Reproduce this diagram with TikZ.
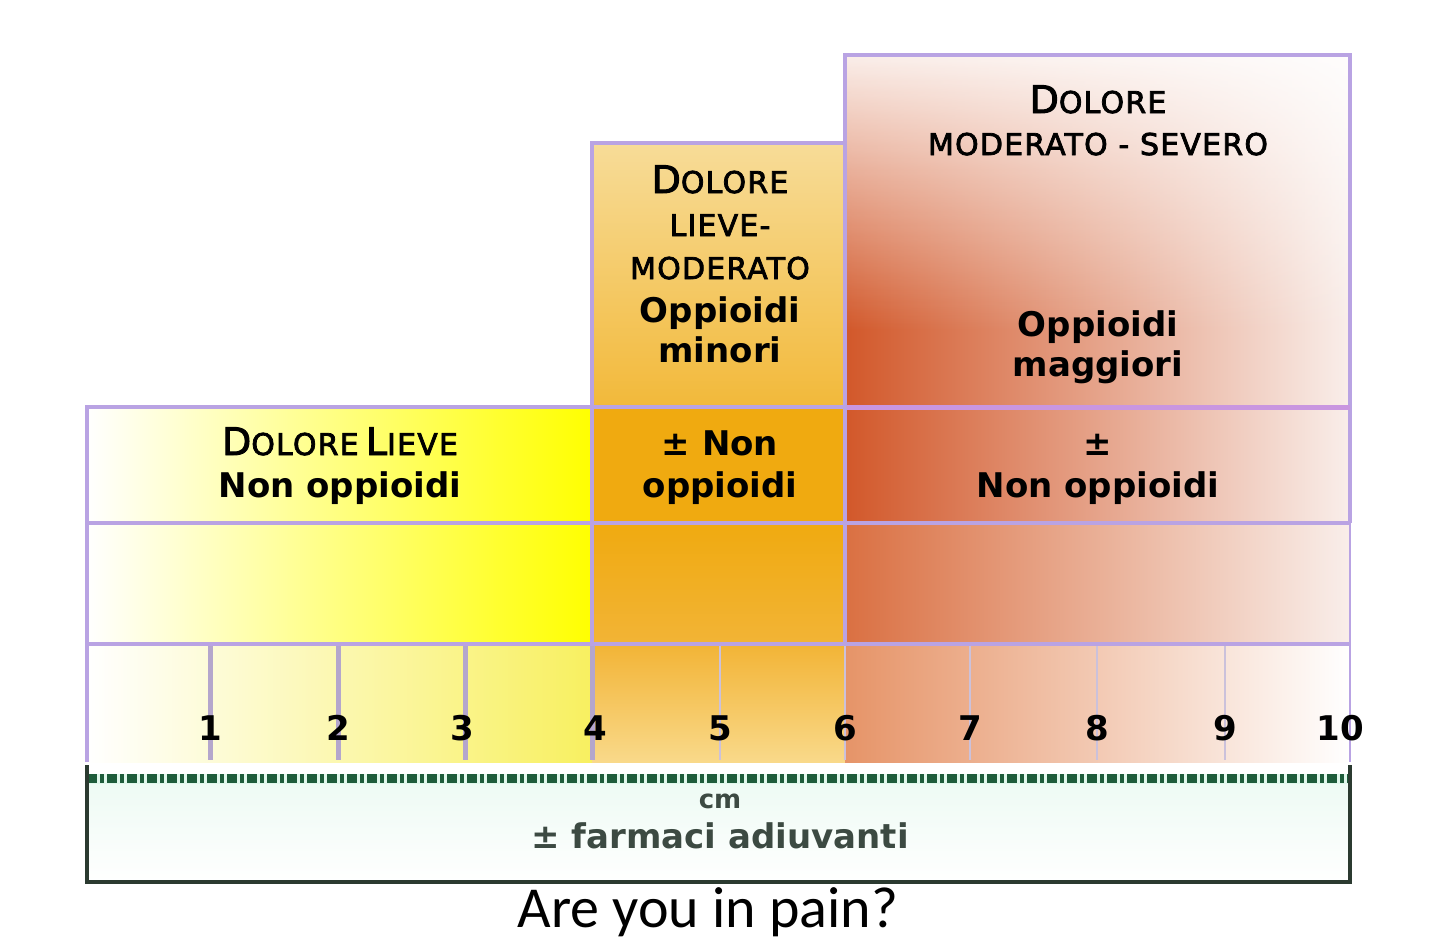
\documentclass[tikz,border=0pt]{standalone}
\usepackage{fontspec}
\setmainfont{DejaVu Sans}
\newfontfamily\calfont{Carlito}
\newfontfamily\headfont[FakeBold=2.5, LetterSpace=4]{DejaVu Sans}
\usetikzlibrary{fadings}
\tikzfading[name=fadetop, top color=transparent!0, bottom color=transparent!100]
\definecolor{bord}{HTML}{B9A3E3}
\definecolor{bordp}{HTML}{C996E0}
\definecolor{tick}{HTML}{B4A6CC}
\definecolor{yel}{HTML}{FFFF00}
\definecolor{yelmid}{HTML}{FCFC80}
\definecolor{yelsoft}{HTML}{F8F060}
\definecolor{midtop}{HTML}{F7DC98}
\definecolor{midA}{HTML}{F2B93A}
\definecolor{midB}{HTML}{F0AA10}
\definecolor{midC}{HTML}{F2B436}
\definecolor{midD}{HTML}{F9D98A}
\definecolor{rdark}{HTML}{D2582A}
\definecolor{rdark2}{HTML}{DA7042}
\definecolor{rdark3}{HTML}{E69468}
\definecolor{rmid}{HTML}{E8B49A}
\definecolor{rlight}{HTML}{F9EEEA}
\definecolor{dkgreen}{HTML}{1E5C3A}
\definecolor{mint}{HTML}{D8F5E6}
\definecolor{frame}{HTML}{2B3A30}
\definecolor{gtext}{HTML}{3C4A42}
\newcommand{\bigC}[1]{{\fontsize{19}{21}\selectfont #1}}
\newcommand{\smC}[1]{{\fontsize{15}{17}\selectfont #1}}
\begin{document}
\begin{tikzpicture}[x=0.5pt,y=-0.5pt,
  bordline/.style={draw=bord, line width=2pt},
  tickthick/.style={draw=tick, line width=2.5pt},
  tickthin/.style={draw=tick!70, line width=1pt},
  body/.style={font=\fontsize{17}{21}\selectfont\bfseries, anchor=base, inner sep=0pt},
  head/.style={font=\headfont, anchor=base, inner sep=0pt},
  num/.style={font=\fontsize{17}{20}\selectfont\bfseries, anchor=base, inner sep=0pt}]
\useasboundingbox (0,0) rectangle (1436,949);
\fill[white] (0,0) rectangle (1436,949);
% left column
\shade[left color=white, middle color=yelmid, right color=yel] (87,407) rectangle (592,523);
\shade[left color=white, middle color=yelmid, right color=yel] (87,523) rectangle (592,644);
\shade[left color=white, right color=yelsoft] (87,644) rectangle (592,762);
% middle column
\shade[top color=midtop, bottom color=midA] (592,143) rectangle (845,407);
\fill[midB] (592,407) rectangle (845,523);
\shade[top color=midB, bottom color=midC] (592,523) rectangle (845,644);
\shade[top color=midC, bottom color=midD] (592,644) rectangle (845,762);
% right column
\shade[left color=rdark, middle color=rmid, right color=rlight] (845,55) rectangle (1350,407);
\fill[white, path fading=fadetop, opacity=0.9] (845,55) rectangle (1350,330);
\shade[left color=rdark, middle color=rmid, right color=rlight] (845,407) rectangle (1350,523);
\shade[left color=rdark2, middle color=rmid, right color=rlight] (845,523) rectangle (1350,644);
\shade[left color=rdark3, middle color=rmid!80!white, right color=white] (845,644) rectangle (1350,762);
% ticks
\foreach \x in {210,338,465,592} \draw[tickthick] (\x,644) -- (\x,760);
\foreach \x in {720,845,970,1097,1225} \draw[tickthin] (\x,644) -- (\x,760);
% borders
\draw[bordline] (87,762) -- (87,407) -- (592,407) -- (592,143) -- (845,143) -- (845,55) -- (1350,55) -- (1350,523);
\draw[draw=bord, line width=1pt] (1350,523) -- (1350,762);
\draw[bordline] (87,407) -- (845,407);
\draw[draw=bordp, line width=2.5pt] (845,407) -- (1350,407);
\draw[bordline] (87,523) -- (1350,523);
\draw[bordline] (87,644) -- (1350,644);
\draw[bordline] (592,143) -- (592,644);
\draw[bordline] (845,55) -- (845,644);
% bottom box
\shade[top color=mint!45, bottom color=white] (87,782) rectangle (1350,882);
\draw[line width=5pt, mint!80] (87,779) -- (1350,779);
\draw[line width=4.5pt, dkgreen, dash pattern=on 5pt off 1.5pt on 2pt off 1.5pt] (87,778) -- (1350,778);
\draw[line width=2pt, frame] (87,765) -- (87,882) -- (1350,882) -- (1350,765);
% texts left
\node[head] (l1) at (340,455) {\bigC{D}\smC{OLORE} \bigC{L}\smC{IEVE}};
\node[body] (l2) at (340,497) {Non oppioidi};
% texts middle
\node[head] (m1) at (720,193) {\bigC{D}\smC{OLORE}};
\node[head] (m2) at (720,236) {\smC{LIEVE-}};
\node[head] (m3) at (720,279) {\smC{MODERATO}};
\node[body] (m4) at (720,322) {Oppioidi};
\node[body] (m5) at (720,362) {minori};
\node[body] (m6) at (720,455) {± Non};
\node[body] (m7) at (720,497) {oppioidi};
% texts right
\node[head] (r1) at (1098,113) {\bigC{D}\smC{OLORE}};
\node[head] (r2) at (1098,155) {\smC{MODERATO - SEVERO}};
\node[body] (r3) at (1098,336) {Oppioidi};
\node[body] (r4) at (1098,376) {maggiori};
\node[body] (r5) at (1098,455) {±};
\node[body] (r6) at (1098,497) {Non oppioidi};
% numbers
\foreach \x/\t in {210/1,338/2,462/3,595/4,720/5,845/6,970/7,1097/8,1225/9,1340/10}
  \node[num] (n\t) at (\x,740) {\t};
% bottom texts
\node[anchor=base, inner sep=0pt, text=gtext, font=\fontsize{13}{15}\selectfont\bfseries] (cm) at (720,808) {cm};
\node[anchor=base, inner sep=0pt, text=gtext, font=\fontsize{17}{20}\selectfont\bfseries] (adj) at (720,848) {± farmaci adiuvanti};
\node[anchor=base, inner sep=0pt, font=\calfont\fontsize{29}{32}\selectfont] (q) at (708,927) {Are you in pain?};
\end{tikzpicture}
\end{document}
